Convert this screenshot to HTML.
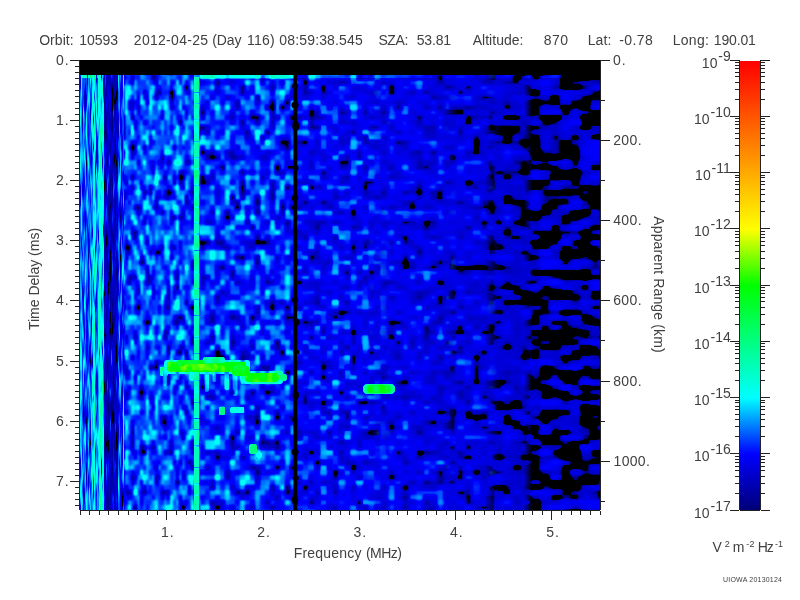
<!DOCTYPE html>
<html><head><meta charset="utf-8"><title>plot</title><style>html,body{margin:0;padding:0;background:#fff;width:800px;height:600px;overflow:hidden}svg{display:block;will-change:transform}text{font-family:"Liberation Sans",sans-serif;fill:#414141}</style></head><body>
<svg width="800" height="600" viewBox="0 0 800 600">
<defs>
<filter id="ff" x="0" y="0" width="100%" height="100%" color-interpolation-filters="sRGB">
<feTurbulence type="fractalNoise" baseFrequency="0.15 0.1" numOctaves="1" seed="21"/>
<feColorMatrix type="matrix" values="1 0 0 0 0 1 0 0 0 0 1 0 0 0 0 0 0 0 0 1" result="n"/>
<feComponentTransfer result="g"><feFuncR type="table" tableValues="0 0 0 0 0 0.02 0.05 0.08 0.12 0.15 0.18 0.2 0.24 0.27 0.31 0.34 0.36 0.39 0.41 0.43 0.44 0.46 0.47 0.48 0.49 0.5 0.51 0.53 0.54 0.56 0.57 0.59 0.6 0.62 0.63 0.64 0.66 0.67 0.68 0.69 0.7 0.71 0.72 0.72 0.73 0.74 0.75 0.75 0.75 0.75 0.75"/><feFuncG type="table" tableValues="0 0 0 0 0 0.02 0.05 0.08 0.12 0.15 0.18 0.2 0.24 0.27 0.31 0.34 0.36 0.39 0.41 0.43 0.44 0.46 0.47 0.48 0.49 0.5 0.51 0.53 0.54 0.56 0.57 0.59 0.6 0.62 0.63 0.64 0.66 0.67 0.68 0.69 0.7 0.71 0.72 0.72 0.73 0.74 0.75 0.75 0.75 0.75 0.75"/><feFuncB type="table" tableValues="0 0 0 0 0 0.02 0.05 0.08 0.12 0.15 0.18 0.2 0.24 0.27 0.31 0.34 0.36 0.39 0.41 0.43 0.44 0.46 0.47 0.48 0.49 0.5 0.51 0.53 0.54 0.56 0.57 0.59 0.6 0.62 0.63 0.64 0.66 0.67 0.68 0.69 0.7 0.71 0.72 0.72 0.73 0.74 0.75 0.75 0.75 0.75 0.75"/></feComponentTransfer>
<feComposite in="g" in2="SourceGraphic" operator="arithmetic" k1="0" k2="0.48" k3="1" k4="-0.24" result="s"/>
<feComponentTransfer in="s"><feFuncR type="table" tableValues="0 0 0 0 0 0 0 0 0 0 0 0 0 0 0 0 0 0 0 0 0 0 0 0 0 0 0 0 0 0 0 0 0 0 0 0 0 0 0 0 0 0 0 0 0 0 0.1 0.2 0.3 0.4 0.5"/><feFuncG type="table" tableValues="0 0 0 0 0 0 0 0 0 0 0 0 0 0 0 0 0.1 0.2 0.3 0.4 0.5 0.6 0.7 0.8 0.9 1 1 1 1 1 1 1 1 1 1 1 1 1 1 1 1 1 1 1 1 1 1 1 1 1 1"/><feFuncB type="table" tableValues="0 0 0 0 0 0.47 0.52 0.58 0.63 0.68 0.74 0.79 0.84 0.89 0.95 1 1 1 1 1 1 1 1 1 1 1 0.95 0.9 0.85 0.8 0.75 0.7 0.65 0.6 0.55 0.5 0.45 0.4 0.35 0.3 0.25 0.2 0.15 0.1 0.05 0 0 0 0 0 0"/></feComponentTransfer><feComposite operator="in" in2="SourceGraphic"/>
</filter>
<filter id="f0" x="0" y="0" width="100%" height="100%" color-interpolation-filters="sRGB">
<feTurbulence type="fractalNoise" baseFrequency="0.6 0.035" numOctaves="2" seed="2"/>
<feColorMatrix type="matrix" values="1 0 0 0 0 1 0 0 0 0 1 0 0 0 0 0 0 0 0 1" result="n"/>
<feComponentTransfer result="g"><feFuncR type="table" tableValues="0 0 0 0 0 0.02 0.05 0.08 0.12 0.15 0.18 0.2 0.24 0.27 0.31 0.34 0.36 0.39 0.41 0.43 0.44 0.46 0.47 0.48 0.49 0.5 0.51 0.53 0.54 0.56 0.57 0.59 0.6 0.62 0.63 0.64 0.66 0.67 0.68 0.69 0.7 0.71 0.72 0.72 0.73 0.74 0.75 0.75 0.75 0.75 0.75"/><feFuncG type="table" tableValues="0 0 0 0 0 0.02 0.05 0.08 0.12 0.15 0.18 0.2 0.24 0.27 0.31 0.34 0.36 0.39 0.41 0.43 0.44 0.46 0.47 0.48 0.49 0.5 0.51 0.53 0.54 0.56 0.57 0.59 0.6 0.62 0.63 0.64 0.66 0.67 0.68 0.69 0.7 0.71 0.72 0.72 0.73 0.74 0.75 0.75 0.75 0.75 0.75"/><feFuncB type="table" tableValues="0 0 0 0 0 0.02 0.05 0.08 0.12 0.15 0.18 0.2 0.24 0.27 0.31 0.34 0.36 0.39 0.41 0.43 0.44 0.46 0.47 0.48 0.49 0.5 0.51 0.53 0.54 0.56 0.57 0.59 0.6 0.62 0.63 0.64 0.66 0.67 0.68 0.69 0.7 0.71 0.72 0.72 0.73 0.74 0.75 0.75 0.75 0.75 0.75"/></feComponentTransfer>
<feComposite in="g" in2="SourceGraphic" operator="arithmetic" k1="0" k2="0.88" k3="1" k4="-0.44" result="s"/>
<feComponentTransfer in="s"><feFuncR type="table" tableValues="0 0 0 0 0 0 0 0 0 0 0 0 0 0 0 0 0 0 0 0 0 0 0 0 0 0 0 0 0 0 0 0 0 0 0 0 0 0 0 0 0 0 0 0 0 0 0.1 0.2 0.3 0.4 0.5"/><feFuncG type="table" tableValues="0 0 0 0 0 0 0 0 0 0 0 0 0 0 0 0 0.1 0.2 0.3 0.4 0.5 0.6 0.7 0.8 0.9 1 1 1 1 1 1 1 1 1 1 1 1 1 1 1 1 1 1 1 1 1 1 1 1 1 1"/><feFuncB type="table" tableValues="0 0 0 0 0 0.47 0.52 0.58 0.63 0.68 0.74 0.79 0.84 0.89 0.95 1 1 1 1 1 1 1 1 1 1 1 0.95 0.9 0.85 0.8 0.75 0.7 0.65 0.6 0.55 0.5 0.45 0.4 0.35 0.3 0.25 0.2 0.15 0.1 0.05 0 0 0 0 0 0"/></feComponentTransfer>
</filter>
<clipPath id="c0"><rect x="80" y="75" width="44" height="435"/></clipPath>
<filter id="f1" x="0" y="0" width="100%" height="100%" color-interpolation-filters="sRGB">
<feTurbulence type="fractalNoise" baseFrequency="0.2 0.07" numOctaves="2" seed="5"/>
<feColorMatrix type="matrix" values="1 0 0 0 0 1 0 0 0 0 1 0 0 0 0 0 0 0 0 1" result="n"/><feFlood x="81" y="77" width="1" height="1" flood-color="#000"/><feComposite x="80" y="75" width="3" height="5"/><feTile result="t"/><feComposite in="n" in2="t" operator="in"/><feMorphology operator="dilate" radius="1 2"/><feGaussianBlur stdDeviation="0.8 1.15"/>
<feComponentTransfer result="g"><feFuncR type="table" tableValues="0 0 0 0 0 0.02 0.05 0.08 0.12 0.15 0.18 0.2 0.24 0.27 0.31 0.34 0.36 0.39 0.41 0.43 0.44 0.46 0.47 0.48 0.49 0.5 0.51 0.53 0.54 0.56 0.57 0.59 0.6 0.62 0.63 0.64 0.66 0.67 0.68 0.69 0.7 0.71 0.72 0.72 0.73 0.74 0.75 0.75 0.75 0.75 0.75"/><feFuncG type="table" tableValues="0 0 0 0 0 0.02 0.05 0.08 0.12 0.15 0.18 0.2 0.24 0.27 0.31 0.34 0.36 0.39 0.41 0.43 0.44 0.46 0.47 0.48 0.49 0.5 0.51 0.53 0.54 0.56 0.57 0.59 0.6 0.62 0.63 0.64 0.66 0.67 0.68 0.69 0.7 0.71 0.72 0.72 0.73 0.74 0.75 0.75 0.75 0.75 0.75"/><feFuncB type="table" tableValues="0 0 0 0 0 0.02 0.05 0.08 0.12 0.15 0.18 0.2 0.24 0.27 0.31 0.34 0.36 0.39 0.41 0.43 0.44 0.46 0.47 0.48 0.49 0.5 0.51 0.53 0.54 0.56 0.57 0.59 0.6 0.62 0.63 0.64 0.66 0.67 0.68 0.69 0.7 0.71 0.72 0.72 0.73 0.74 0.75 0.75 0.75 0.75 0.75"/></feComponentTransfer>
<feComposite in="g" in2="SourceGraphic" operator="arithmetic" k1="0" k2="1.12" k3="1" k4="-0.56" result="s"/>
<feComponentTransfer in="s"><feFuncR type="table" tableValues="0 0 0 0 0 0 0 0 0 0 0 0 0 0 0 0 0 0 0 0 0 0 0 0 0 0 0 0 0 0 0 0 0 0 0 0 0 0 0 0 0 0 0 0 0 0 0.1 0.2 0.3 0.4 0.5"/><feFuncG type="table" tableValues="0 0 0 0 0 0 0 0 0 0 0 0 0 0 0 0 0.1 0.2 0.3 0.4 0.5 0.6 0.7 0.8 0.9 1 1 1 1 1 1 1 1 1 1 1 1 1 1 1 1 1 1 1 1 1 1 1 1 1 1"/><feFuncB type="table" tableValues="0 0 0 0 0 0.47 0.52 0.58 0.63 0.68 0.74 0.79 0.84 0.89 0.95 1 1 1 1 1 1 1 1 1 1 1 0.95 0.9 0.85 0.8 0.75 0.7 0.65 0.6 0.55 0.5 0.45 0.4 0.35 0.3 0.25 0.2 0.15 0.1 0.05 0 0 0 0 0 0"/></feComponentTransfer>
</filter>
<clipPath id="c1"><rect x="124" y="75" width="72" height="435"/></clipPath>
<filter id="f2" x="0" y="0" width="100%" height="100%" color-interpolation-filters="sRGB">
<feTurbulence type="fractalNoise" baseFrequency="0.13 0.08" numOctaves="2" seed="7"/>
<feColorMatrix type="matrix" values="1 0 0 0 0 1 0 0 0 0 1 0 0 0 0 0 0 0 0 1" result="n"/><feFlood x="82" y="77" width="1" height="1" flood-color="#000"/><feComposite x="80" y="75" width="5" height="5"/><feTile result="t"/><feComposite in="n" in2="t" operator="in"/><feMorphology operator="dilate" radius="2 2"/><feGaussianBlur stdDeviation="1.05 1.15"/>
<feComponentTransfer result="g"><feFuncR type="table" tableValues="0 0 0 0 0 0.02 0.05 0.08 0.12 0.15 0.18 0.2 0.24 0.27 0.31 0.34 0.36 0.39 0.41 0.43 0.44 0.46 0.47 0.48 0.49 0.5 0.51 0.53 0.54 0.56 0.57 0.59 0.6 0.62 0.63 0.64 0.66 0.67 0.68 0.69 0.7 0.71 0.72 0.72 0.73 0.74 0.75 0.75 0.75 0.75 0.75"/><feFuncG type="table" tableValues="0 0 0 0 0 0.02 0.05 0.08 0.12 0.15 0.18 0.2 0.24 0.27 0.31 0.34 0.36 0.39 0.41 0.43 0.44 0.46 0.47 0.48 0.49 0.5 0.51 0.53 0.54 0.56 0.57 0.59 0.6 0.62 0.63 0.64 0.66 0.67 0.68 0.69 0.7 0.71 0.72 0.72 0.73 0.74 0.75 0.75 0.75 0.75 0.75"/><feFuncB type="table" tableValues="0 0 0 0 0 0.02 0.05 0.08 0.12 0.15 0.18 0.2 0.24 0.27 0.31 0.34 0.36 0.39 0.41 0.43 0.44 0.46 0.47 0.48 0.49 0.5 0.51 0.53 0.54 0.56 0.57 0.59 0.6 0.62 0.63 0.64 0.66 0.67 0.68 0.69 0.7 0.71 0.72 0.72 0.73 0.74 0.75 0.75 0.75 0.75 0.75"/></feComponentTransfer>
<feComposite in="g" in2="SourceGraphic" operator="arithmetic" k1="0" k2="1.12" k3="1" k4="-0.56" result="s"/>
<feComponentTransfer in="s"><feFuncR type="table" tableValues="0 0 0 0 0 0 0 0 0 0 0 0 0 0 0 0 0 0 0 0 0 0 0 0 0 0 0 0 0 0 0 0 0 0 0 0 0 0 0 0 0 0 0 0 0 0 0.1 0.2 0.3 0.4 0.5"/><feFuncG type="table" tableValues="0 0 0 0 0 0 0 0 0 0 0 0 0 0 0 0 0.1 0.2 0.3 0.4 0.5 0.6 0.7 0.8 0.9 1 1 1 1 1 1 1 1 1 1 1 1 1 1 1 1 1 1 1 1 1 1 1 1 1 1"/><feFuncB type="table" tableValues="0 0 0 0 0 0.47 0.52 0.58 0.63 0.68 0.74 0.79 0.84 0.89 0.95 1 1 1 1 1 1 1 1 1 1 1 0.95 0.9 0.85 0.8 0.75 0.7 0.65 0.6 0.55 0.5 0.45 0.4 0.35 0.3 0.25 0.2 0.15 0.1 0.05 0 0 0 0 0 0"/></feComponentTransfer>
</filter>
<clipPath id="c2"><rect x="196" y="75" width="99" height="435"/></clipPath>
<filter id="f3" x="0" y="0" width="100%" height="100%" color-interpolation-filters="sRGB">
<feTurbulence type="fractalNoise" baseFrequency="0.1 0.1" numOctaves="2" seed="8"/>
<feColorMatrix type="matrix" values="1 0 0 0 0 1 0 0 0 0 1 0 0 0 0 0 0 0 0 1" result="n"/><feFlood x="83" y="77" width="1" height="1" flood-color="#000"/><feComposite x="80" y="75" width="6" height="5"/><feTile result="t"/><feComposite in="n" in2="t" operator="in"/><feMorphology operator="dilate" radius="3 2"/><feGaussianBlur stdDeviation="1.26 1.15"/>
<feComponentTransfer result="g"><feFuncR type="table" tableValues="0 0 0 0 0 0.01 0.03 0.04 0.06 0.08 0.09 0.11 0.13 0.2 0.27 0.34 0.39 0.41 0.43 0.44 0.45 0.46 0.47 0.48 0.49 0.5 0.51 0.51 0.52 0.53 0.55 0.57 0.59 0.61 0.63 0.64 0.66 0.67 0.68 0.69 0.7 0.7 0.7 0.71 0.71 0.72 0.72 0.72 0.72 0.72 0.72"/><feFuncG type="table" tableValues="0 0 0 0 0 0.01 0.03 0.04 0.06 0.08 0.09 0.11 0.13 0.2 0.27 0.34 0.39 0.41 0.43 0.44 0.45 0.46 0.47 0.48 0.49 0.5 0.51 0.51 0.52 0.53 0.55 0.57 0.59 0.61 0.63 0.64 0.66 0.67 0.68 0.69 0.7 0.7 0.7 0.71 0.71 0.72 0.72 0.72 0.72 0.72 0.72"/><feFuncB type="table" tableValues="0 0 0 0 0 0.01 0.03 0.04 0.06 0.08 0.09 0.11 0.13 0.2 0.27 0.34 0.39 0.41 0.43 0.44 0.45 0.46 0.47 0.48 0.49 0.5 0.51 0.51 0.52 0.53 0.55 0.57 0.59 0.61 0.63 0.64 0.66 0.67 0.68 0.69 0.7 0.7 0.7 0.71 0.71 0.72 0.72 0.72 0.72 0.72 0.72"/></feComponentTransfer>
<feComposite in="g" in2="SourceGraphic" operator="arithmetic" k1="0" k2="0.96" k3="1" k4="-0.48" result="s"/>
<feComponentTransfer in="s"><feFuncR type="table" tableValues="0 0 0 0 0 0 0 0 0 0 0 0 0 0 0 0 0 0 0 0 0 0 0 0 0 0 0 0 0 0 0 0 0 0 0 0 0 0 0 0 0 0 0 0 0 0 0.1 0.2 0.3 0.4 0.5"/><feFuncG type="table" tableValues="0 0 0 0 0 0 0 0 0 0 0 0 0 0 0 0 0.1 0.2 0.3 0.4 0.5 0.6 0.7 0.8 0.9 1 1 1 1 1 1 1 1 1 1 1 1 1 1 1 1 1 1 1 1 1 1 1 1 1 1"/><feFuncB type="table" tableValues="0 0 0 0 0 0.47 0.52 0.58 0.63 0.68 0.74 0.79 0.84 0.89 0.95 1 1 1 1 1 1 1 1 1 1 1 0.95 0.9 0.85 0.8 0.75 0.7 0.65 0.6 0.55 0.5 0.45 0.4 0.35 0.3 0.25 0.2 0.15 0.1 0.05 0 0 0 0 0 0"/></feComponentTransfer>
</filter>
<clipPath id="c3"><rect x="295" y="75" width="97" height="435"/></clipPath>
<filter id="f4" x="0" y="0" width="100%" height="100%" color-interpolation-filters="sRGB">
<feTurbulence type="fractalNoise" baseFrequency="0.085 0.1" numOctaves="2" seed="9"/>
<feColorMatrix type="matrix" values="1 0 0 0 0 1 0 0 0 0 1 0 0 0 0 0 0 0 0 1" result="n"/><feFlood x="83" y="77" width="1" height="1" flood-color="#000"/><feComposite x="80" y="75" width="7" height="5"/><feTile result="t"/><feComposite in="n" in2="t" operator="in"/><feMorphology operator="dilate" radius="3 2"/><feGaussianBlur stdDeviation="1.47 1.15"/>
<feComponentTransfer result="g"><feFuncR type="table" tableValues="0 0 0 0 0 0.01 0.03 0.04 0.06 0.08 0.09 0.11 0.13 0.18 0.24 0.3 0.37 0.41 0.42 0.44 0.45 0.46 0.47 0.48 0.49 0.5 0.5 0.51 0.51 0.52 0.52 0.54 0.55 0.57 0.59 0.6 0.62 0.63 0.65 0.65 0.66 0.67 0.67 0.68 0.68 0.69 0.7 0.7 0.7 0.7 0.7"/><feFuncG type="table" tableValues="0 0 0 0 0 0.01 0.03 0.04 0.06 0.08 0.09 0.11 0.13 0.18 0.24 0.3 0.37 0.41 0.42 0.44 0.45 0.46 0.47 0.48 0.49 0.5 0.5 0.51 0.51 0.52 0.52 0.54 0.55 0.57 0.59 0.6 0.62 0.63 0.65 0.65 0.66 0.67 0.67 0.68 0.68 0.69 0.7 0.7 0.7 0.7 0.7"/><feFuncB type="table" tableValues="0 0 0 0 0 0.01 0.03 0.04 0.06 0.08 0.09 0.11 0.13 0.18 0.24 0.3 0.37 0.41 0.42 0.44 0.45 0.46 0.47 0.48 0.49 0.5 0.5 0.51 0.51 0.52 0.52 0.54 0.55 0.57 0.59 0.6 0.62 0.63 0.65 0.65 0.66 0.67 0.67 0.68 0.68 0.69 0.7 0.7 0.7 0.7 0.7"/></feComponentTransfer>
<feComposite in="g" in2="SourceGraphic" operator="arithmetic" k1="0" k2="0.96" k3="1" k4="-0.48" result="s"/>
<feComponentTransfer in="s"><feFuncR type="table" tableValues="0 0 0 0 0 0 0 0 0 0 0 0 0 0 0 0 0 0 0 0 0 0 0 0 0 0 0 0 0 0 0 0 0 0 0 0 0 0 0 0 0 0 0 0 0 0 0.1 0.2 0.3 0.4 0.5"/><feFuncG type="table" tableValues="0 0 0 0 0 0 0 0 0 0 0 0 0 0 0 0 0.1 0.2 0.3 0.4 0.5 0.6 0.7 0.8 0.9 1 1 1 1 1 1 1 1 1 1 1 1 1 1 1 1 1 1 1 1 1 1 1 1 1 1"/><feFuncB type="table" tableValues="0 0 0 0 0 0.47 0.52 0.58 0.63 0.68 0.74 0.79 0.84 0.89 0.95 1 1 1 1 1 1 1 1 1 1 1 0.95 0.9 0.85 0.8 0.75 0.7 0.65 0.6 0.55 0.5 0.45 0.4 0.35 0.3 0.25 0.2 0.15 0.1 0.05 0 0 0 0 0 0"/></feComponentTransfer>
</filter>
<linearGradient id="mg4" gradientUnits="userSpaceOnUse" x1="368" y1="0" x2="392" y2="0"><stop offset="0" stop-color="#fff" stop-opacity="0"/><stop offset="1" stop-color="#fff"/></linearGradient>
<mask id="c4" maskUnits="userSpaceOnUse" x="368" y="75" width="90" height="435"><rect x="368" y="75" width="90" height="435" fill="url(#mg4)"/></mask>
<filter id="f5" x="0" y="0" width="100%" height="100%" color-interpolation-filters="sRGB">
<feTurbulence type="fractalNoise" baseFrequency="0.07 0.095" numOctaves="2" seed="10"/>
<feColorMatrix type="matrix" values="1 0 0 0 0 1 0 0 0 0 1 0 0 0 0 0 0 0 0 1" result="n"/><feFlood x="84" y="77" width="1" height="1" flood-color="#000"/><feComposite x="80" y="75" width="8" height="5"/><feTile result="t"/><feComposite in="n" in2="t" operator="in"/><feMorphology operator="dilate" radius="4 2"/><feGaussianBlur stdDeviation="1.68 1.15"/>
<feComponentTransfer result="g"><feFuncR type="table" tableValues="0 0 0 0 0 0 0.01 0.02 0.03 0.04 0.05 0.06 0.07 0.08 0.09 0.12 0.18 0.24 0.32 0.41 0.43 0.46 0.47 0.48 0.49 0.5 0.5 0.51 0.51 0.52 0.53 0.54 0.55 0.56 0.57 0.58 0.6 0.61 0.61 0.62 0.63 0.64 0.64 0.65 0.66 0.66 0.67 0.68 0.68 0.68 0.68"/><feFuncG type="table" tableValues="0 0 0 0 0 0 0.01 0.02 0.03 0.04 0.05 0.06 0.07 0.08 0.09 0.12 0.18 0.24 0.32 0.41 0.43 0.46 0.47 0.48 0.49 0.5 0.5 0.51 0.51 0.52 0.53 0.54 0.55 0.56 0.57 0.58 0.6 0.61 0.61 0.62 0.63 0.64 0.64 0.65 0.66 0.66 0.67 0.68 0.68 0.68 0.68"/><feFuncB type="table" tableValues="0 0 0 0 0 0 0.01 0.02 0.03 0.04 0.05 0.06 0.07 0.08 0.09 0.12 0.18 0.24 0.32 0.41 0.43 0.46 0.47 0.48 0.49 0.5 0.5 0.51 0.51 0.52 0.53 0.54 0.55 0.56 0.57 0.58 0.6 0.61 0.61 0.62 0.63 0.64 0.64 0.65 0.66 0.66 0.67 0.68 0.68 0.68 0.68"/></feComponentTransfer>
<feComposite in="g" in2="SourceGraphic" operator="arithmetic" k1="0" k2="0.96" k3="1" k4="-0.48" result="s"/>
<feComponentTransfer in="s"><feFuncR type="table" tableValues="0 0 0 0 0 0 0 0 0 0 0 0 0 0 0 0 0 0 0 0 0 0 0 0 0 0 0 0 0 0 0 0 0 0 0 0 0 0 0 0 0 0 0 0 0 0 0.1 0.2 0.3 0.4 0.5"/><feFuncG type="table" tableValues="0 0 0 0 0 0 0 0 0 0 0 0 0 0 0 0 0.1 0.2 0.3 0.4 0.5 0.6 0.7 0.8 0.9 1 1 1 1 1 1 1 1 1 1 1 1 1 1 1 1 1 1 1 1 1 1 1 1 1 1"/><feFuncB type="table" tableValues="0 0 0 0 0 0.47 0.52 0.58 0.63 0.68 0.74 0.79 0.84 0.89 0.95 1 1 1 1 1 1 1 1 1 1 1 0.95 0.9 0.85 0.8 0.75 0.7 0.65 0.6 0.55 0.5 0.45 0.4 0.35 0.3 0.25 0.2 0.15 0.1 0.05 0 0 0 0 0 0"/></feComponentTransfer>
</filter>
<linearGradient id="mg5" gradientUnits="userSpaceOnUse" x1="442" y1="0" x2="458" y2="0"><stop offset="0" stop-color="#fff" stop-opacity="0"/><stop offset="1" stop-color="#fff"/></linearGradient>
<mask id="c5" maskUnits="userSpaceOnUse" x="442" y="75" width="58" height="435"><rect x="442" y="75" width="58" height="435" fill="url(#mg5)"/></mask>
<filter id="f6" x="0" y="0" width="100%" height="100%" color-interpolation-filters="sRGB">
<feTurbulence type="fractalNoise" baseFrequency="0.06 0.095" numOctaves="2" seed="12"/>
<feColorMatrix type="matrix" values="1 0 0 0 0 1 0 0 0 0 1 0 0 0 0 0 0 0 0 1" result="n"/><feFlood x="84" y="77" width="1" height="1" flood-color="#000"/><feComposite x="80" y="75" width="9" height="5"/><feTile result="t"/><feComposite in="n" in2="t" operator="in"/><feMorphology operator="dilate" radius="4 2"/><feGaussianBlur stdDeviation="1.89 1.15"/>
<feComponentTransfer result="g"><feFuncR type="table" tableValues="0 0 0 0 0 0 0.01 0.02 0.03 0.04 0.05 0.06 0.07 0.08 0.09 0.1 0.11 0.12 0.16 0.21 0.27 0.33 0.43 0.47 0.49 0.5 0.5 0.51 0.51 0.52 0.53 0.54 0.54 0.55 0.56 0.56 0.57 0.57 0.58 0.58 0.59 0.59 0.6 0.61 0.61 0.62 0.62 0.62 0.62 0.62 0.62"/><feFuncG type="table" tableValues="0 0 0 0 0 0 0.01 0.02 0.03 0.04 0.05 0.06 0.07 0.08 0.09 0.1 0.11 0.12 0.16 0.21 0.27 0.33 0.43 0.47 0.49 0.5 0.5 0.51 0.51 0.52 0.53 0.54 0.54 0.55 0.56 0.56 0.57 0.57 0.58 0.58 0.59 0.59 0.6 0.61 0.61 0.62 0.62 0.62 0.62 0.62 0.62"/><feFuncB type="table" tableValues="0 0 0 0 0 0 0.01 0.02 0.03 0.04 0.05 0.06 0.07 0.08 0.09 0.1 0.11 0.12 0.16 0.21 0.27 0.33 0.43 0.47 0.49 0.5 0.5 0.51 0.51 0.52 0.53 0.54 0.54 0.55 0.56 0.56 0.57 0.57 0.58 0.58 0.59 0.59 0.6 0.61 0.61 0.62 0.62 0.62 0.62 0.62 0.62"/></feComponentTransfer>
<feComposite in="g" in2="SourceGraphic" operator="arithmetic" k1="0" k2="0.96" k3="1" k4="-0.48" result="s"/>
<feComponentTransfer in="s"><feFuncR type="table" tableValues="0 0 0 0 0 0 0 0 0 0 0 0 0 0 0 0 0 0 0 0 0 0 0 0 0 0 0 0 0 0 0 0 0 0 0 0 0 0 0 0 0 0 0 0 0 0 0.1 0.2 0.3 0.4 0.5"/><feFuncG type="table" tableValues="0 0 0 0 0 0 0 0 0 0 0 0 0 0 0 0 0.1 0.2 0.3 0.4 0.5 0.6 0.7 0.8 0.9 1 1 1 1 1 1 1 1 1 1 1 1 1 1 1 1 1 1 1 1 1 1 1 1 1 1"/><feFuncB type="table" tableValues="0 0 0 0 0 0.47 0.52 0.58 0.63 0.68 0.74 0.79 0.84 0.89 0.95 1 1 1 1 1 1 1 1 1 1 1 0.95 0.9 0.85 0.8 0.75 0.7 0.65 0.6 0.55 0.5 0.45 0.4 0.35 0.3 0.25 0.2 0.15 0.1 0.05 0 0 0 0 0 0"/></feComponentTransfer>
</filter>
<linearGradient id="mg6" gradientUnits="userSpaceOnUse" x1="484" y1="0" x2="500" y2="0"><stop offset="0" stop-color="#fff" stop-opacity="0"/><stop offset="1" stop-color="#fff"/></linearGradient>
<mask id="c6" maskUnits="userSpaceOnUse" x="484" y="75" width="48" height="435"><rect x="484" y="75" width="48" height="435" fill="url(#mg6)"/></mask>
<filter id="f7" x="0" y="0" width="100%" height="100%" color-interpolation-filters="sRGB">
<feTurbulence type="fractalNoise" baseFrequency="0.05 0.1" numOctaves="2" seed="11"/>
<feColorMatrix type="matrix" values="1 0 0 0 0 1 0 0 0 0 1 0 0 0 0 0 0 0 0 1" result="n"/><feFlood x="85" y="77" width="1" height="1" flood-color="#000"/><feComposite x="80" y="75" width="10" height="5"/><feTile result="t"/><feComposite in="n" in2="t" operator="in"/><feMorphology operator="dilate" radius="5 2"/><feGaussianBlur stdDeviation="2.1 1.15"/>
<feComponentTransfer result="g"><feFuncR type="table" tableValues="0 0 0 0 0 0 0 0.01 0.01 0.01 0.02 0.02 0.02 0.03 0.03 0.03 0.03 0.04 0.04 0.04 0.05 0.05 0.12 0.19 0.28 0.39 0.48 0.5 0.52 0.53 0.54 0.55 0.56 0.56 0.57 0.58 0.58 0.58 0.58 0.58 0.59 0.59 0.59 0.59 0.59 0.6 0.6 0.6 0.6 0.6 0.6"/><feFuncG type="table" tableValues="0 0 0 0 0 0 0 0.01 0.01 0.01 0.02 0.02 0.02 0.03 0.03 0.03 0.03 0.04 0.04 0.04 0.05 0.05 0.12 0.19 0.28 0.39 0.48 0.5 0.52 0.53 0.54 0.55 0.56 0.56 0.57 0.58 0.58 0.58 0.58 0.58 0.59 0.59 0.59 0.59 0.59 0.6 0.6 0.6 0.6 0.6 0.6"/><feFuncB type="table" tableValues="0 0 0 0 0 0 0 0.01 0.01 0.01 0.02 0.02 0.02 0.03 0.03 0.03 0.03 0.04 0.04 0.04 0.05 0.05 0.12 0.19 0.28 0.39 0.48 0.5 0.52 0.53 0.54 0.55 0.56 0.56 0.57 0.58 0.58 0.58 0.58 0.58 0.59 0.59 0.59 0.59 0.59 0.6 0.6 0.6 0.6 0.6 0.6"/></feComponentTransfer>
<feComposite in="g" in2="SourceGraphic" operator="arithmetic" k1="0" k2="0.96" k3="1" k4="-0.48" result="s"/>
<feComponentTransfer in="s"><feFuncR type="table" tableValues="0 0 0 0 0 0 0 0 0 0 0 0 0 0 0 0 0 0 0 0 0 0 0 0 0 0 0 0 0 0 0 0 0 0 0 0 0 0 0 0 0 0 0 0 0 0 0.1 0.2 0.3 0.4 0.5"/><feFuncG type="table" tableValues="0 0 0 0 0 0 0 0 0 0 0 0 0 0 0 0 0.1 0.2 0.3 0.4 0.5 0.6 0.7 0.8 0.9 1 1 1 1 1 1 1 1 1 1 1 1 1 1 1 1 1 1 1 1 1 1 1 1 1 1"/><feFuncB type="table" tableValues="0 0 0 0 0 0.47 0.52 0.58 0.63 0.68 0.74 0.79 0.84 0.89 0.95 1 1 1 1 1 1 1 1 1 1 1 0.95 0.9 0.85 0.8 0.75 0.7 0.65 0.6 0.55 0.5 0.45 0.4 0.35 0.3 0.25 0.2 0.15 0.1 0.05 0 0 0 0 0 0"/></feComponentTransfer>
</filter>
<linearGradient id="mg7" gradientUnits="userSpaceOnUse" x1="524" y1="0" x2="532" y2="0"><stop offset="0" stop-color="#fff" stop-opacity="0"/><stop offset="1" stop-color="#fff"/></linearGradient>
<mask id="c7" maskUnits="userSpaceOnUse" x="524" y="75" width="76" height="435"><rect x="524" y="75" width="76" height="435" fill="url(#mg7)"/></mask>
<linearGradient id="bias" gradientUnits="userSpaceOnUse" x1="80" y1="0" x2="600" y2="0">
<stop offset="0%" stop-color="#5d5d5d"/>
<stop offset="2.31%" stop-color="#5d5d5d"/>
<stop offset="2.88%" stop-color="#666666"/>
<stop offset="4.52%" stop-color="#666666"/>
<stop offset="4.71%" stop-color="#333333"/>
<stop offset="7.31%" stop-color="#333333"/>
<stop offset="7.4%" stop-color="#616161"/>
<stop offset="7.69%" stop-color="#616161"/>
<stop offset="7.79%" stop-color="#4c4c4c"/>
<stop offset="8.46%" stop-color="#525252"/>
<stop offset="8.85%" stop-color="#5a5a5a"/>
<stop offset="22.31%" stop-color="#595959"/>
<stop offset="23.08%" stop-color="#545454"/>
<stop offset="40.38%" stop-color="#515151"/>
<stop offset="42.31%" stop-color="#4a4a4a"/>
<stop offset="61.54%" stop-color="#474747"/>
<stop offset="71.15%" stop-color="#434343"/>
<stop offset="79.23%" stop-color="#404040"/>
<stop offset="86.15%" stop-color="#383838"/>
<stop offset="100%" stop-color="#383838"/>
</linearGradient>
<linearGradient id="cb" x1="0" y1="0" x2="0" y2="1">
<stop offset="0%" stop-color="rgb(255,0,0)"/>
<stop offset="12.5%" stop-color="rgb(255,85,0)"/>
<stop offset="25%" stop-color="rgb(255,170,0)"/>
<stop offset="37.5%" stop-color="rgb(255,255,0)"/>
<stop offset="50%" stop-color="rgb(0,255,0)"/>
<stop offset="62.5%" stop-color="rgb(0,255,128)"/>
<stop offset="75%" stop-color="rgb(0,255,255)"/>
<stop offset="87.5%" stop-color="rgb(0,0,255)"/>
<stop offset="100%" stop-color="rgb(0,0,120)"/>
</linearGradient>
</defs>
<g>
<g clip-path="url(#c0)"><g filter="url(#f0)"><rect x="68" y="63" width="544" height="459" fill="url(#bias)"/><rect x="80" y="75" width="24" height="3" fill="#8f8f8f"/><rect x="194" y="75" width="100" height="3.5" fill="#878787"/><rect x="297" y="75" width="135" height="3" fill="#595959"/><rect x="432" y="75" width="96" height="3" fill="#4a4a4a"/><rect x="528" y="75" width="72" height="3" fill="#4c4c4c"/><rect x="294" y="75" width="3" height="435" fill="#000000"/><rect x="160" y="367" width="8" height="9" rx="2" fill="#a8a8a8"/><rect x="164" y="360" width="86" height="14" rx="3" fill="#858585"/><rect x="243" y="371" width="40" height="13" rx="3" fill="#858585"/><rect x="162.5" y="370" width="4.5" height="16" rx="2" fill="#737373"/><rect x="175.5" y="370" width="4" height="10" rx="2" fill="#737373"/><rect x="189.5" y="370" width="4.5" height="11" rx="2" fill="#737373"/><rect x="204.5" y="370" width="4.5" height="22" rx="2" fill="#737373"/><rect x="212.5" y="370" width="4" height="12" rx="2" fill="#737373"/><rect x="224.5" y="370" width="4.5" height="20" rx="2" fill="#737373"/><rect x="232.5" y="370" width="5" height="26" rx="2" fill="#737373"/><rect x="240.5" y="370" width="4" height="14" rx="2" fill="#737373"/><rect x="80" y="75" width="2" height="435" fill="#707070"/><rect x="92.5" y="75" width="2.5" height="435" fill="#8a8a8a"/><rect x="98.5" y="75" width="5" height="435" fill="#858585"/><rect x="123.7" y="75" width="1.8" height="435" fill="#808080"/></g></g>
<g clip-path="url(#c1)"><g filter="url(#f1)"><rect x="68" y="63" width="544" height="459" fill="url(#bias)"/><rect x="80" y="75" width="24" height="3" fill="#8f8f8f"/><rect x="194" y="75" width="100" height="3.5" fill="#878787"/><rect x="297" y="75" width="135" height="3" fill="#595959"/><rect x="432" y="75" width="96" height="3" fill="#4a4a4a"/><rect x="528" y="75" width="72" height="3" fill="#4c4c4c"/><rect x="294" y="75" width="3" height="435" fill="#000000"/><rect x="160" y="367" width="8" height="9" rx="2" fill="#a8a8a8"/><rect x="164" y="360" width="86" height="14" rx="3" fill="#858585"/><rect x="243" y="371" width="40" height="13" rx="3" fill="#858585"/><rect x="162.5" y="370" width="4.5" height="16" rx="2" fill="#737373"/><rect x="175.5" y="370" width="4" height="10" rx="2" fill="#737373"/><rect x="189.5" y="370" width="4.5" height="11" rx="2" fill="#737373"/><rect x="204.5" y="370" width="4.5" height="22" rx="2" fill="#737373"/><rect x="212.5" y="370" width="4" height="12" rx="2" fill="#737373"/><rect x="224.5" y="370" width="4.5" height="20" rx="2" fill="#737373"/><rect x="232.5" y="370" width="5" height="26" rx="2" fill="#737373"/><rect x="240.5" y="370" width="4" height="14" rx="2" fill="#737373"/></g></g>
<g clip-path="url(#c2)"><g filter="url(#f2)"><rect x="68" y="63" width="544" height="459" fill="url(#bias)"/><rect x="80" y="75" width="24" height="3" fill="#8f8f8f"/><rect x="194" y="75" width="100" height="3.5" fill="#878787"/><rect x="297" y="75" width="135" height="3" fill="#595959"/><rect x="432" y="75" width="96" height="3" fill="#4a4a4a"/><rect x="528" y="75" width="72" height="3" fill="#4c4c4c"/><rect x="294" y="75" width="3" height="435" fill="#000000"/><rect x="160" y="367" width="8" height="9" rx="2" fill="#a8a8a8"/><rect x="164" y="360" width="86" height="14" rx="3" fill="#858585"/><rect x="243" y="371" width="40" height="13" rx="3" fill="#858585"/><rect x="162.5" y="370" width="4.5" height="16" rx="2" fill="#737373"/><rect x="175.5" y="370" width="4" height="10" rx="2" fill="#737373"/><rect x="189.5" y="370" width="4.5" height="11" rx="2" fill="#737373"/><rect x="204.5" y="370" width="4.5" height="22" rx="2" fill="#737373"/><rect x="212.5" y="370" width="4" height="12" rx="2" fill="#737373"/><rect x="224.5" y="370" width="4.5" height="20" rx="2" fill="#737373"/><rect x="232.5" y="370" width="5" height="26" rx="2" fill="#737373"/><rect x="240.5" y="370" width="4" height="14" rx="2" fill="#737373"/></g></g>
<g clip-path="url(#c3)"><g filter="url(#f3)"><rect x="68" y="63" width="544" height="459" fill="url(#bias)"/><rect x="80" y="75" width="24" height="3" fill="#8f8f8f"/><rect x="194" y="75" width="100" height="3.5" fill="#878787"/><rect x="297" y="75" width="135" height="3" fill="#595959"/><rect x="432" y="75" width="96" height="3" fill="#4a4a4a"/><rect x="528" y="75" width="72" height="3" fill="#4c4c4c"/><rect x="294" y="75" width="3" height="435" fill="#000000"/><rect x="160" y="367" width="8" height="9" rx="2" fill="#a8a8a8"/><rect x="164" y="360" width="86" height="14" rx="3" fill="#858585"/><rect x="243" y="371" width="40" height="13" rx="3" fill="#858585"/><rect x="162.5" y="370" width="4.5" height="16" rx="2" fill="#737373"/><rect x="175.5" y="370" width="4" height="10" rx="2" fill="#737373"/><rect x="189.5" y="370" width="4.5" height="11" rx="2" fill="#737373"/><rect x="204.5" y="370" width="4.5" height="22" rx="2" fill="#737373"/><rect x="212.5" y="370" width="4" height="12" rx="2" fill="#737373"/><rect x="224.5" y="370" width="4.5" height="20" rx="2" fill="#737373"/><rect x="232.5" y="370" width="5" height="26" rx="2" fill="#737373"/><rect x="240.5" y="370" width="4" height="14" rx="2" fill="#737373"/></g></g>
<g mask="url(#c4)"><g filter="url(#f4)"><rect x="68" y="63" width="544" height="459" fill="url(#bias)"/><rect x="80" y="75" width="24" height="3" fill="#8f8f8f"/><rect x="194" y="75" width="100" height="3.5" fill="#878787"/><rect x="297" y="75" width="135" height="3" fill="#595959"/><rect x="432" y="75" width="96" height="3" fill="#4a4a4a"/><rect x="528" y="75" width="72" height="3" fill="#4c4c4c"/><rect x="294" y="75" width="3" height="435" fill="#000000"/><rect x="160" y="367" width="8" height="9" rx="2" fill="#a8a8a8"/><rect x="164" y="360" width="86" height="14" rx="3" fill="#858585"/><rect x="243" y="371" width="40" height="13" rx="3" fill="#858585"/><rect x="162.5" y="370" width="4.5" height="16" rx="2" fill="#737373"/><rect x="175.5" y="370" width="4" height="10" rx="2" fill="#737373"/><rect x="189.5" y="370" width="4.5" height="11" rx="2" fill="#737373"/><rect x="204.5" y="370" width="4.5" height="22" rx="2" fill="#737373"/><rect x="212.5" y="370" width="4" height="12" rx="2" fill="#737373"/><rect x="224.5" y="370" width="4.5" height="20" rx="2" fill="#737373"/><rect x="232.5" y="370" width="5" height="26" rx="2" fill="#737373"/><rect x="240.5" y="370" width="4" height="14" rx="2" fill="#737373"/></g></g>
<g mask="url(#c5)"><g filter="url(#f5)"><rect x="68" y="63" width="544" height="459" fill="url(#bias)"/><rect x="80" y="75" width="24" height="3" fill="#8f8f8f"/><rect x="194" y="75" width="100" height="3.5" fill="#878787"/><rect x="297" y="75" width="135" height="3" fill="#595959"/><rect x="432" y="75" width="96" height="3" fill="#4a4a4a"/><rect x="528" y="75" width="72" height="3" fill="#4c4c4c"/><rect x="294" y="75" width="3" height="435" fill="#000000"/><rect x="160" y="367" width="8" height="9" rx="2" fill="#a8a8a8"/><rect x="164" y="360" width="86" height="14" rx="3" fill="#858585"/><rect x="243" y="371" width="40" height="13" rx="3" fill="#858585"/><rect x="162.5" y="370" width="4.5" height="16" rx="2" fill="#737373"/><rect x="175.5" y="370" width="4" height="10" rx="2" fill="#737373"/><rect x="189.5" y="370" width="4.5" height="11" rx="2" fill="#737373"/><rect x="204.5" y="370" width="4.5" height="22" rx="2" fill="#737373"/><rect x="212.5" y="370" width="4" height="12" rx="2" fill="#737373"/><rect x="224.5" y="370" width="4.5" height="20" rx="2" fill="#737373"/><rect x="232.5" y="370" width="5" height="26" rx="2" fill="#737373"/><rect x="240.5" y="370" width="4" height="14" rx="2" fill="#737373"/></g></g>
<g mask="url(#c6)"><g filter="url(#f6)"><rect x="68" y="63" width="544" height="459" fill="url(#bias)"/><rect x="80" y="75" width="24" height="3" fill="#8f8f8f"/><rect x="194" y="75" width="100" height="3.5" fill="#878787"/><rect x="297" y="75" width="135" height="3" fill="#595959"/><rect x="432" y="75" width="96" height="3" fill="#4a4a4a"/><rect x="528" y="75" width="72" height="3" fill="#4c4c4c"/><rect x="294" y="75" width="3" height="435" fill="#000000"/><rect x="160" y="367" width="8" height="9" rx="2" fill="#a8a8a8"/><rect x="164" y="360" width="86" height="14" rx="3" fill="#858585"/><rect x="243" y="371" width="40" height="13" rx="3" fill="#858585"/><rect x="162.5" y="370" width="4.5" height="16" rx="2" fill="#737373"/><rect x="175.5" y="370" width="4" height="10" rx="2" fill="#737373"/><rect x="189.5" y="370" width="4.5" height="11" rx="2" fill="#737373"/><rect x="204.5" y="370" width="4.5" height="22" rx="2" fill="#737373"/><rect x="212.5" y="370" width="4" height="12" rx="2" fill="#737373"/><rect x="224.5" y="370" width="4.5" height="20" rx="2" fill="#737373"/><rect x="232.5" y="370" width="5" height="26" rx="2" fill="#737373"/><rect x="240.5" y="370" width="4" height="14" rx="2" fill="#737373"/></g></g>
<g mask="url(#c7)"><g filter="url(#f7)"><rect x="68" y="63" width="544" height="459" fill="url(#bias)"/><rect x="80" y="75" width="24" height="3" fill="#8f8f8f"/><rect x="194" y="75" width="100" height="3.5" fill="#878787"/><rect x="297" y="75" width="135" height="3" fill="#595959"/><rect x="432" y="75" width="96" height="3" fill="#4a4a4a"/><rect x="528" y="75" width="72" height="3" fill="#4c4c4c"/><rect x="294" y="75" width="3" height="435" fill="#000000"/><rect x="160" y="367" width="8" height="9" rx="2" fill="#a8a8a8"/><rect x="164" y="360" width="86" height="14" rx="3" fill="#858585"/><rect x="243" y="371" width="40" height="13" rx="3" fill="#858585"/><rect x="162.5" y="370" width="4.5" height="16" rx="2" fill="#737373"/><rect x="175.5" y="370" width="4" height="10" rx="2" fill="#737373"/><rect x="189.5" y="370" width="4.5" height="11" rx="2" fill="#737373"/><rect x="204.5" y="370" width="4.5" height="22" rx="2" fill="#737373"/><rect x="212.5" y="370" width="4" height="12" rx="2" fill="#737373"/><rect x="224.5" y="370" width="4.5" height="20" rx="2" fill="#737373"/><rect x="232.5" y="370" width="5" height="26" rx="2" fill="#737373"/><rect x="240.5" y="370" width="4" height="14" rx="2" fill="#737373"/></g></g>
<g filter="url(#ff)"><rect x="194" y="75" width="5.4" height="435" fill="#6b6b6b"/><path d="M196.7 77V510" stroke="#9c9c9c" stroke-width="5.4" stroke-dasharray="15.1 1.2 9.7 1.2 15.1 1.2 20.5 1.2" fill="none"/><rect x="167" y="361.5" width="79" height="10.5" rx="3" fill="#e6e6e6"/><rect x="176" y="360" width="44" height="6" rx="2.5" fill="#d1d1d1"/><rect x="245" y="373" width="34" height="9" rx="3" fill="#e6e6e6"/><rect x="232" y="366" width="18" height="10" rx="3" fill="#dbdbdb"/><rect x="184" y="364" width="34" height="6.5" rx="3" fill="#f2f2f2"/><rect x="372" y="386" width="14" height="6" rx="3" fill="#e6e6e6"/><rect x="256" y="451" width="6" height="8" rx="2" fill="#858585"/><rect x="279" y="374" width="8" height="7" rx="2" fill="#a8a8a8"/><rect x="203" y="357" width="22" height="6" rx="2" fill="#a8a8a8"/><rect x="219" y="406.5" width="6" height="8.5" rx="1" fill="#a8a8a8"/><rect x="230" y="406.5" width="14.5" height="7" rx="2" fill="#8a8a8a"/><rect x="249" y="444" width="8" height="10" rx="2" fill="#b2b2b2"/><rect x="363" y="384" width="32" height="10" rx="4" fill="#adadad"/><rect x="367" y="385" width="24" height="8" rx="4" fill="#d6d6d6"/></g>
<g fill="#000"><rect x="293.5" y="75" width="3.8" height="435"/><ellipse cx="295" cy="86" rx="2.8" ry="3.5"/><ellipse cx="295" cy="105" rx="3.6" ry="3.5"/><ellipse cx="295" cy="116" rx="2.2" ry="2.5"/><ellipse cx="295.8" cy="126" rx="3.6" ry="4.5"/><ellipse cx="296.5" cy="168" rx="2.2" ry="2.5"/><ellipse cx="295" cy="198" rx="3.2" ry="3.5"/><ellipse cx="295" cy="231" rx="2.2" ry="3.5"/><ellipse cx="295.8" cy="262" rx="2.2" ry="4.5"/><ellipse cx="295" cy="300" rx="3.2" ry="2.5"/><ellipse cx="296.5" cy="322" rx="3.2" ry="3.5"/><ellipse cx="296.5" cy="352" rx="3.2" ry="2.5"/><ellipse cx="295.8" cy="395" rx="3.2" ry="4.5"/><ellipse cx="295" cy="420" rx="2.8" ry="2.5"/><ellipse cx="295" cy="452" rx="3.6" ry="3.5"/><ellipse cx="295.8" cy="478" rx="3.2" ry="2.5"/><ellipse cx="295" cy="500" rx="3.2" ry="4.5"/><rect x="288" y="166" width="7" height="2.5"/></g>
</g>
<rect x="80" y="60" width="520" height="15" fill="#000"/>
<text x="39.17" y="45" font-size="14" letter-spacing="0.05">Orbit:</text>
<text x="79.19" y="45" font-size="14" letter-spacing="0">10593</text>
<text x="133.87" y="45" font-size="14" letter-spacing="0.28">2012-04-25</text>
<text x="212.13" y="45" font-size="14" letter-spacing="-0.02">(Day</text>
<text x="247" y="45" font-size="14" letter-spacing="0.23">116)</text>
<text x="279.35" y="45" font-size="14" letter-spacing="0.15">08:59:38.545</text>
<text x="378.42" y="45" font-size="14" letter-spacing="-0.4">SZA:</text>
<text x="416.68" y="45" font-size="14" letter-spacing="-0.15">53.81</text>
<text x="472.69" y="45" font-size="14" letter-spacing="0.02">Altitude:</text>
<text x="543.76" y="45" font-size="14" letter-spacing="0.44">870</text>
<text x="587.68" y="45" font-size="14" letter-spacing="0.11">Lat:</text>
<text x="619.29" y="45" font-size="14" letter-spacing="0.39">-0.78</text>
<text x="672.68" y="45" font-size="14" letter-spacing="0.29">Long:</text>
<text x="713.87" y="45" font-size="14" letter-spacing="-0.17">190.01</text>
<text x="55.9" y="65" font-size="14" letter-spacing="1.04">0.</text>
<text x="55.9" y="125" font-size="14" letter-spacing="1.04">1.</text>
<text x="55.9" y="185" font-size="14" letter-spacing="1.04">2.</text>
<text x="55.9" y="245" font-size="14" letter-spacing="1.04">3.</text>
<text x="55.9" y="305" font-size="14" letter-spacing="1.04">4.</text>
<text x="55.9" y="366" font-size="14" letter-spacing="1.04">5.</text>
<text x="55.9" y="426" font-size="14" letter-spacing="1.04">6.</text>
<text x="55.9" y="486" font-size="14" letter-spacing="1.04">7.</text>
<text x="161.02" y="537" font-size="14" letter-spacing="0.95">1.</text>
<text x="257.32" y="537" font-size="14" letter-spacing="0.95">2.</text>
<text x="353.62" y="537" font-size="14" letter-spacing="0.95">3.</text>
<text x="449.92" y="537" font-size="14" letter-spacing="0.95">4.</text>
<text x="546.22" y="537" font-size="14" letter-spacing="0.95">5.</text>
<text x="613" y="65" font-size="14" letter-spacing="1.06">0.</text>
<text x="613.17" y="145" font-size="14" letter-spacing="0.39">200.</text>
<text x="613.17" y="225" font-size="14" letter-spacing="0.39">400.</text>
<text x="613.17" y="305" font-size="14" letter-spacing="0.39">600.</text>
<text x="613.17" y="386" font-size="14" letter-spacing="0.39">800.</text>
<text x="613.58" y="466" font-size="14" letter-spacing="0.3">1000.</text>
<text x="293.69" y="558" font-size="14" letter-spacing="0.21">Frequency</text>
<text x="366" y="558" font-size="14" letter-spacing="-0.55">(MHz)</text>
<text transform="translate(39 279) rotate(-90)" font-size="14" text-anchor="middle">Time Delay (ms)</text>
<text transform="translate(653.5 284.5) rotate(90)" font-size="14" text-anchor="middle" letter-spacing="0.14">Apparent Range (km)</text>
<text x="730.8" y="68" font-size="14" text-anchor="end">10<tspan dx="0.9" dy="-7">-9</tspan></text>
<text x="730.8" y="124" font-size="14" text-anchor="end">10<tspan dx="0.9" dy="-7">-10</tspan></text>
<text x="730.8" y="180" font-size="14" text-anchor="end">10<tspan dx="0.9" dy="-7">-11</tspan></text>
<text x="730.8" y="236" font-size="14" text-anchor="end">10<tspan dx="0.9" dy="-7">-12</tspan></text>
<text x="730.8" y="293" font-size="14" text-anchor="end">10<tspan dx="0.9" dy="-7">-13</tspan></text>
<text x="730.8" y="349" font-size="14" text-anchor="end">10<tspan dx="0.9" dy="-7">-14</tspan></text>
<text x="730.8" y="405" font-size="14" text-anchor="end">10<tspan dx="0.9" dy="-7">-15</tspan></text>
<text x="730.8" y="461" font-size="14" text-anchor="end">10<tspan dx="0.9" dy="-7">-16</tspan></text>
<text x="730.8" y="518" font-size="14" text-anchor="end">10<tspan dx="0.9" dy="-7">-17</tspan></text>
<text x="712.47" y="551.6" font-size="14" letter-spacing="0">V</text>
<text x="724.87" y="547" font-size="9" letter-spacing="0">2</text>
<text x="732.83" y="551.6" font-size="14" letter-spacing="0">m</text>
<text x="746.33" y="547" font-size="9" letter-spacing="0.06">-2</text>
<text x="757.78" y="551.6" font-size="14" letter-spacing="-1.1">Hz</text>
<text x="774.97" y="547" font-size="9" letter-spacing="0.05">-1</text>
<text x="722.96" y="582" font-size="7" letter-spacing="0.22">UIOWA 20130124</text>
<rect x="740" y="61" width="20" height="449" fill="url(#cb)"/>
<path d="M79 60v451h1v-451zM600 60v451h1v-451zM79 510h522v1h-522zM70 60h9v1h-9zM75 66h4v1h-4zM75 72h4v1h-4zM75 78h4v1h-4zM75 84h4v1h-4zM75 90h4v1h-4zM75 96h4v1h-4zM75 102h4v1h-4zM75 108h4v1h-4zM75 114h4v1h-4zM70 120h9v1h-9zM75 126h4v1h-4zM75 132h4v1h-4zM75 138h4v1h-4zM75 144h4v1h-4zM75 150h4v1h-4zM75 156h4v1h-4zM75 162h4v1h-4zM75 168h4v1h-4zM75 174h4v1h-4zM70 180h9v1h-9zM75 186h4v1h-4zM75 192h4v1h-4zM75 198h4v1h-4zM75 204h4v1h-4zM75 210h4v1h-4zM75 216h4v1h-4zM75 222h4v1h-4zM75 228h4v1h-4zM75 234h4v1h-4zM70 240h9v1h-9zM75 246h4v1h-4zM75 252h4v1h-4zM75 258h4v1h-4zM75 264h4v1h-4zM75 270h4v1h-4zM75 276h4v1h-4zM75 282h4v1h-4zM75 288h4v1h-4zM75 294h4v1h-4zM70 300h9v1h-9zM75 306h4v1h-4zM75 313h4v1h-4zM75 319h4v1h-4zM75 325h4v1h-4zM75 331h4v1h-4zM75 337h4v1h-4zM75 343h4v1h-4zM75 349h4v1h-4zM75 355h4v1h-4zM70 361h9v1h-9zM75 367h4v1h-4zM75 373h4v1h-4zM75 379h4v1h-4zM75 385h4v1h-4zM75 391h4v1h-4zM75 397h4v1h-4zM75 403h4v1h-4zM75 409h4v1h-4zM75 415h4v1h-4zM70 421h9v1h-9zM75 427h4v1h-4zM75 433h4v1h-4zM75 439h4v1h-4zM75 445h4v1h-4zM75 451h4v1h-4zM75 457h4v1h-4zM75 463h4v1h-4zM75 469h4v1h-4zM75 475h4v1h-4zM70 481h9v1h-9zM75 487h4v1h-4zM75 493h4v1h-4zM75 499h4v1h-4zM75 505h4v1h-4zM80 511v4h1v-4zM89 511v4h1v-4zM99 511v4h1v-4zM108 511v4h1v-4zM118 511v4h1v-4zM128 511v4h1v-4zM137 511v4h1v-4zM147 511v4h1v-4zM157 511v4h1v-4zM166 511v9h1v-9zM176 511v4h1v-4zM186 511v4h1v-4zM195 511v4h1v-4zM205 511v4h1v-4zM214 511v4h1v-4zM224 511v4h1v-4zM234 511v4h1v-4zM243 511v4h1v-4zM253 511v4h1v-4zM263 511v9h1v-9zM272 511v4h1v-4zM282 511v4h1v-4zM291 511v4h1v-4zM301 511v4h1v-4zM311 511v4h1v-4zM320 511v4h1v-4zM330 511v4h1v-4zM340 511v4h1v-4zM349 511v4h1v-4zM359 511v9h1v-9zM369 511v4h1v-4zM378 511v4h1v-4zM388 511v4h1v-4zM397 511v4h1v-4zM407 511v4h1v-4zM417 511v4h1v-4zM426 511v4h1v-4zM436 511v4h1v-4zM446 511v4h1v-4zM455 511v9h1v-9zM465 511v4h1v-4zM474 511v4h1v-4zM484 511v4h1v-4zM494 511v4h1v-4zM503 511v4h1v-4zM513 511v4h1v-4zM523 511v4h1v-4zM532 511v4h1v-4zM542 511v4h1v-4zM551 511v9h1v-9zM561 511v4h1v-4zM571 511v4h1v-4zM580 511v4h1v-4zM590 511v4h1v-4zM600 511v4h1v-4zM601 60h9v1h-9zM601 100h4v1h-4zM601 140h9v1h-9zM601 180h4v1h-4zM601 220h9v1h-9zM601 260h4v1h-4zM601 300h9v1h-9zM601 340h4v1h-4zM601 381h9v1h-9zM601 421h4v1h-4zM601 461h9v1h-9zM601 501h4v1h-4zM739 60v451h1v-451zM760 60v451h1v-451zM739 510h22v1h-22zM730 60h9v1h-9zM761 60h9v1h-9zM735 99h4v1h-4zM761 99h4v1h-4zM735 89h4v1h-4zM761 89h4v1h-4zM735 82h4v1h-4zM761 82h4v1h-4zM735 76h4v1h-4zM761 76h4v1h-4zM735 72h4v1h-4zM761 72h4v1h-4zM735 68h4v1h-4zM761 68h4v1h-4zM735 65h4v1h-4zM761 65h4v1h-4zM735 62h4v1h-4zM761 62h4v1h-4zM730 116h9v1h-9zM761 116h9v1h-9zM735 155h4v1h-4zM761 155h4v1h-4zM735 145h4v1h-4zM761 145h4v1h-4zM735 138h4v1h-4zM761 138h4v1h-4zM735 133h4v1h-4zM761 133h4v1h-4zM735 128h4v1h-4zM761 128h4v1h-4zM735 124h4v1h-4zM761 124h4v1h-4zM735 121h4v1h-4zM761 121h4v1h-4zM735 118h4v1h-4zM761 118h4v1h-4zM730 172h9v1h-9zM761 172h9v1h-9zM735 211h4v1h-4zM761 211h4v1h-4zM735 201h4v1h-4zM761 201h4v1h-4zM735 194h4v1h-4zM761 194h4v1h-4zM735 189h4v1h-4zM761 189h4v1h-4zM735 184h4v1h-4zM761 184h4v1h-4zM735 181h4v1h-4zM761 181h4v1h-4zM735 177h4v1h-4zM761 177h4v1h-4zM735 175h4v1h-4zM761 175h4v1h-4zM730 228h9v1h-9zM761 228h9v1h-9zM735 268h4v1h-4zM761 268h4v1h-4zM735 258h4v1h-4zM761 258h4v1h-4zM735 251h4v1h-4zM761 251h4v1h-4zM735 245h4v1h-4zM761 245h4v1h-4zM735 241h4v1h-4zM761 241h4v1h-4zM735 237h4v1h-4zM761 237h4v1h-4zM735 234h4v1h-4zM761 234h4v1h-4zM735 231h4v1h-4zM761 231h4v1h-4zM730 285h9v1h-9zM761 285h9v1h-9zM735 324h4v1h-4zM761 324h4v1h-4zM735 314h4v1h-4zM761 314h4v1h-4zM735 307h4v1h-4zM761 307h4v1h-4zM735 301h4v1h-4zM761 301h4v1h-4zM735 297h4v1h-4zM761 297h4v1h-4zM735 293h4v1h-4zM761 293h4v1h-4zM735 290h4v1h-4zM761 290h4v1h-4zM735 287h4v1h-4zM761 287h4v1h-4zM730 341h9v1h-9zM761 341h9v1h-9zM735 380h4v1h-4zM761 380h4v1h-4zM735 370h4v1h-4zM761 370h4v1h-4zM735 363h4v1h-4zM761 363h4v1h-4zM735 358h4v1h-4zM761 358h4v1h-4zM735 353h4v1h-4zM761 353h4v1h-4zM735 349h4v1h-4zM761 349h4v1h-4zM735 346h4v1h-4zM761 346h4v1h-4zM735 343h4v1h-4zM761 343h4v1h-4zM730 397h9v1h-9zM761 397h9v1h-9zM735 436h4v1h-4zM761 436h4v1h-4zM735 426h4v1h-4zM761 426h4v1h-4zM735 419h4v1h-4zM761 419h4v1h-4zM735 414h4v1h-4zM761 414h4v1h-4zM735 409h4v1h-4zM761 409h4v1h-4zM735 406h4v1h-4zM761 406h4v1h-4zM735 402h4v1h-4zM761 402h4v1h-4zM735 400h4v1h-4zM761 400h4v1h-4zM730 453h9v1h-9zM761 453h9v1h-9zM735 493h4v1h-4zM761 493h4v1h-4zM735 483h4v1h-4zM761 483h4v1h-4zM735 476h4v1h-4zM761 476h4v1h-4zM735 470h4v1h-4zM761 470h4v1h-4zM735 466h4v1h-4zM761 466h4v1h-4zM735 462h4v1h-4zM761 462h4v1h-4zM735 459h4v1h-4zM761 459h4v1h-4zM735 456h4v1h-4zM761 456h4v1h-4zM730 510h9v1h-9zM761 510h9v1h-9z" fill="#222" shape-rendering="crispEdges"/>
</svg></body></html>
